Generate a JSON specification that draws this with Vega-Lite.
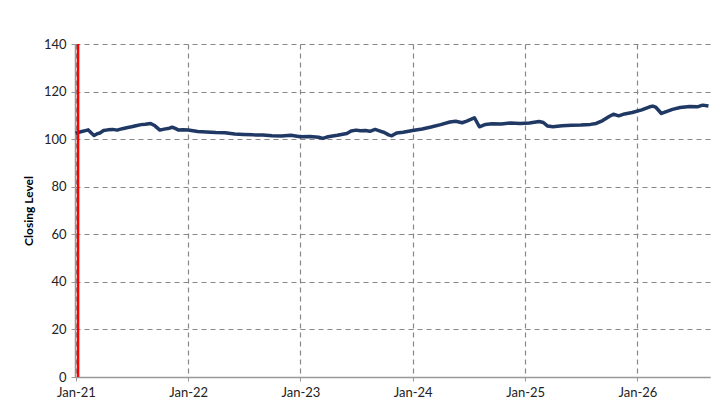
{
  "$schema": "https://vega.github.io/schema/vega-lite/v6.json",
  "width": 635,
  "height": 333,
  "autosize": {"type": "none"},
  "padding": {"left": 75, "top": 44, "right": 17, "bottom": 27},
  "background": "white",
  "config": {
    "view": {"stroke": null},
    "font": "Lato",
    "axis": {"labelFont": "Lato", "titleFont": "Lato"}
  },
  "datasets": {
    "series": [
      {"date": "2020-12-31", "value": 102.4},
      {"date": "2021-01-08", "value": 102.8},
      {"date": "2021-01-20", "value": 103.2},
      {"date": "2021-02-01", "value": 103.6},
      {"date": "2021-02-10", "value": 103.9},
      {"date": "2021-02-20", "value": 102.6},
      {"date": "2021-03-01", "value": 101.5},
      {"date": "2021-03-10", "value": 102.2},
      {"date": "2021-03-20", "value": 102.6},
      {"date": "2021-04-01", "value": 103.6},
      {"date": "2021-04-15", "value": 103.9},
      {"date": "2021-05-01", "value": 104.1},
      {"date": "2021-05-15", "value": 103.8},
      {"date": "2021-06-01", "value": 104.4},
      {"date": "2021-06-15", "value": 104.8},
      {"date": "2021-07-01", "value": 105.2},
      {"date": "2021-07-15", "value": 105.6},
      {"date": "2021-08-01", "value": 106.1},
      {"date": "2021-08-15", "value": 106.3},
      {"date": "2021-09-01", "value": 106.6},
      {"date": "2021-09-15", "value": 105.6},
      {"date": "2021-10-01", "value": 103.8},
      {"date": "2021-10-15", "value": 104.2},
      {"date": "2021-11-01", "value": 104.6},
      {"date": "2021-11-10", "value": 105.0},
      {"date": "2021-11-20", "value": 104.5},
      {"date": "2021-12-01", "value": 103.8},
      {"date": "2021-12-15", "value": 103.9},
      {"date": "2022-01-01", "value": 103.8},
      {"date": "2022-02-01", "value": 103.2},
      {"date": "2022-03-01", "value": 103.0},
      {"date": "2022-04-01", "value": 102.8},
      {"date": "2022-05-01", "value": 102.7},
      {"date": "2022-06-01", "value": 102.2},
      {"date": "2022-07-01", "value": 102.0},
      {"date": "2022-08-01", "value": 101.8},
      {"date": "2022-09-01", "value": 101.7},
      {"date": "2022-10-01", "value": 101.4},
      {"date": "2022-11-01", "value": 101.3},
      {"date": "2022-12-01", "value": 101.6},
      {"date": "2023-01-01", "value": 101.0},
      {"date": "2023-02-01", "value": 101.1},
      {"date": "2023-03-01", "value": 100.8},
      {"date": "2023-03-15", "value": 100.3},
      {"date": "2023-04-01", "value": 101.0},
      {"date": "2023-05-01", "value": 101.6},
      {"date": "2023-06-01", "value": 102.4},
      {"date": "2023-06-15", "value": 103.4},
      {"date": "2023-07-01", "value": 103.8},
      {"date": "2023-07-15", "value": 103.5},
      {"date": "2023-08-01", "value": 103.6},
      {"date": "2023-08-15", "value": 103.3},
      {"date": "2023-09-01", "value": 104.1},
      {"date": "2023-09-15", "value": 103.5},
      {"date": "2023-10-01", "value": 102.8},
      {"date": "2023-10-15", "value": 101.8},
      {"date": "2023-10-25", "value": 101.4},
      {"date": "2023-11-10", "value": 102.6},
      {"date": "2023-12-01", "value": 102.9},
      {"date": "2024-01-01", "value": 103.6},
      {"date": "2024-02-01", "value": 104.3},
      {"date": "2024-03-01", "value": 105.1},
      {"date": "2024-04-01", "value": 106.1},
      {"date": "2024-05-01", "value": 107.2},
      {"date": "2024-05-20", "value": 107.5},
      {"date": "2024-06-10", "value": 106.9},
      {"date": "2024-06-25", "value": 107.6},
      {"date": "2024-07-10", "value": 108.4},
      {"date": "2024-07-20", "value": 109.0},
      {"date": "2024-08-05", "value": 105.2},
      {"date": "2024-08-25", "value": 106.2},
      {"date": "2024-09-15", "value": 106.5},
      {"date": "2024-10-15", "value": 106.4},
      {"date": "2024-11-15", "value": 106.8},
      {"date": "2024-12-15", "value": 106.6},
      {"date": "2025-01-15", "value": 106.8},
      {"date": "2025-02-15", "value": 107.4},
      {"date": "2025-03-01", "value": 107.0},
      {"date": "2025-03-15", "value": 105.5},
      {"date": "2025-04-01", "value": 105.2},
      {"date": "2025-05-01", "value": 105.6},
      {"date": "2025-06-01", "value": 105.8},
      {"date": "2025-07-01", "value": 105.9},
      {"date": "2025-08-01", "value": 106.2},
      {"date": "2025-08-20", "value": 106.6},
      {"date": "2025-09-10", "value": 107.8},
      {"date": "2025-10-01", "value": 109.5},
      {"date": "2025-10-15", "value": 110.5},
      {"date": "2025-11-01", "value": 109.8},
      {"date": "2025-11-20", "value": 110.6},
      {"date": "2025-12-15", "value": 111.2},
      {"date": "2026-01-15", "value": 112.3},
      {"date": "2026-02-10", "value": 113.6},
      {"date": "2026-02-20", "value": 113.9},
      {"date": "2026-03-01", "value": 113.5},
      {"date": "2026-03-20", "value": 110.8},
      {"date": "2026-04-05", "value": 111.6},
      {"date": "2026-04-25", "value": 112.5},
      {"date": "2026-05-20", "value": 113.3},
      {"date": "2026-06-20", "value": 113.7},
      {"date": "2026-07-15", "value": 113.6},
      {"date": "2026-08-01", "value": 114.3},
      {"date": "2026-08-20", "value": 113.9}
    ],
    "marker": [{"date": "2021-01-08"}]
  },
  "layer": [
    {
      "data": {"name": "series"},
      "mark": {"type": "line", "color": "#1F3864", "strokeWidth": 3.5, "strokeJoin": "round"},
      "encoding": {
        "x": {
          "field": "date",
          "type": "temporal",
          "scale": {"type": "utc", "domain": [{"year": 2020, "month": 12, "date": 29, "utc": true}, {"year": 2026, "month": 8, "date": 25, "utc": true}]},
          "axis": {
            "title": null,
            "values": [
              {"year": 2021, "month": 1, "date": 1, "utc": true},
              {"year": 2022, "month": 1, "date": 1, "utc": true},
              {"year": 2023, "month": 1, "date": 1, "utc": true},
              {"year": 2024, "month": 1, "date": 1, "utc": true},
              {"year": 2025, "month": 1, "date": 1, "utc": true},
              {"year": 2026, "month": 1, "date": 1, "utc": true}
            ],
            "labelExpr": "utcFormat(datum.value, '%b-%y')",
            "labelFontSize": 13,
            "labelColor": "#222222",
            "labelPadding": 5,
            "labelFlush": false,
            "domainColor": "#999999",
            "domainWidth": 1.5,
            "tickColor": "#999999",
            "tickSize": 4,
            "grid": true,
            "gridColor": "#888888",
            "gridDash": [5, 4],
            "gridWidth": 1.2
          }
        },
        "y": {
          "field": "value",
          "type": "quantitative",
          "scale": {"domain": [0, 140], "nice": false},
          "axis": {
            "title": "Closing Level",
            "titleFontSize": 12,
            "titleFontWeight": "bold",
            "titleColor": "#000000",
            "titlePadding": 8,
            "values": [0, 20, 40, 60, 80, 100, 120, 140],
            "labelFontSize": 13,
            "labelColor": "#222222",
            "labelPadding": 5,
            "domainColor": "#999999",
            "domainWidth": 1.5,
            "tickColor": "#999999",
            "tickSize": 4,
            "grid": true,
            "gridColor": "#888888",
            "gridDash": [5, 4],
            "gridWidth": 1.2
          }
        }
      }
    },
    {
      "data": {"name": "marker"},
      "mark": {"type": "rule", "color": "#FF0000", "strokeWidth": 2.5},
      "encoding": {
        "x": {"field": "date", "type": "temporal"}
      }
    }
  ]
}
